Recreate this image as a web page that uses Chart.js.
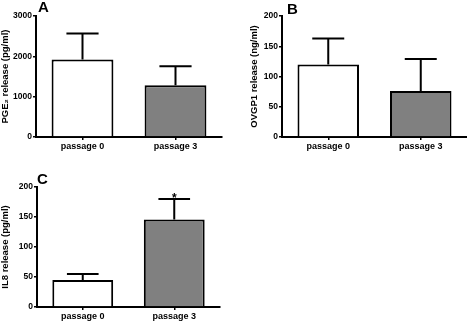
<!DOCTYPE html>
<html>
<head>
<meta charset="utf-8">
<script src="https://cdn.jsdelivr.net/npm/chart.js@4/dist/chart.umd.min.js"></script>
<style>
  html, body { margin:0; padding:0; background:#fff; }
  #wrap { position:relative; width:467px; height:322px; overflow:hidden; background:#fff; }
  canvas { position:absolute; }
  .letter { position:absolute; font-family:"Liberation Sans", Arial, sans-serif; font-weight:bold; font-size:15px; color:#000; line-height:1; }
</style>
</head>
<body>
<div id="wrap">
  <canvas id="cA" width="230" height="160" style="left:0px;top:0px"></canvas>
  <canvas id="cB" width="218" height="160" style="left:249px;top:0px"></canvas>
  <canvas id="cC" width="230" height="162" style="left:0px;top:160px"></canvas>
  <div class="letter" style="left:38px;top:-1px">A</div>
  <div class="letter" style="left:287px;top:1px">B</div>
  <div class="letter" style="left:37px;top:171px">C</div>
</div>
<script>
// ---- data ----
const categories = ["passage 0", "passage 3"];

const pge2Values = [1920, 1285];
const pge2Errors = [645, 470];
const pge2Marks  = ["", ""];

const ovgp1Values = [120, 76];
const ovgp1Errors = [43, 53];
const ovgp1Marks  = ["", ""];

const il8Values = [45, 146];
const il8Errors = [10, 34];
const il8Marks  = ["", "*"];

const barColors = ["#ffffff", "#808080"];
const FONT = '"Liberation Sans", Arial, sans-serif';

const errorBarPlugin = {
  id: 'errorBars',
  afterDatasetsDraw(chart) {
    const ctx = chart.ctx;
    const ys = chart.scales.y;
    const meta = chart.getDatasetMeta(0);
    const ds = chart.data.datasets[0];
    ctx.save();
    ctx.strokeStyle = '#000';
    ctx.lineWidth = 2;
    meta.data.forEach((el, i) => {
      const v = ds.data[i], e = ds.errors[i];
      const yTop = ys.getPixelForValue(v + e);
      const x = el.x;
      const capHalf = el.width * 0.26;
      ctx.beginPath();
      ctx.moveTo(x, el.y);
      ctx.lineTo(x, yTop);
      ctx.moveTo(x - capHalf, yTop);
      ctx.lineTo(x + capHalf, yTop);
      ctx.stroke();
      const m = ds.marks[i];
      if (m) {
        ctx.fillStyle = '#000';
        ctx.font = 'bold 12px ' + FONT;
        ctx.textAlign = 'center';
        ctx.textBaseline = 'bottom';
        ctx.fillText(m, x, yTop + 6);
      }
    });
    ctx.restore();
  }
};

function makeChart(id, values, errors, marks, yMax, yStep, yTitle, yWidth, xHeight, padTop, padRight) {
  return new Chart(document.getElementById(id), {
    type: 'bar',
    data: {
      labels: categories,
      datasets: [{
        data: values,
        errors: errors,
        marks: marks,
        backgroundColor: barColors,
        borderColor: '#000',
        borderWidth: 2,
        barPercentage: 0.665,
        categoryPercentage: 1.0
      }]
    },
    options: {
      responsive: false,
      animation: false,
      devicePixelRatio: 1,
      layout: { padding: { top: padTop, right: padRight, left: 0, bottom: 0 } },
      plugins: { legend: { display: false }, tooltip: { enabled: false } },
      scales: {
        x: {
          type: 'category',
          offset: true,
          grid: { display: true, drawOnChartArea: false, drawTicks: true, tickLength: 3, offset: false, color: '#000', lineWidth: 1.5 },
          border: { display: true, color: '#000', width: 2 },
          ticks: { color: '#000', font: { family: FONT, weight: 'bold', size: 9 }, padding: 1, maxRotation: 0 },
          afterFit: s => { s.height = xHeight; }
        },
        y: {
          min: 0, max: yMax,
          grid: { display: true, drawOnChartArea: false, drawTicks: true, tickLength: 3, color: '#000', lineWidth: 1.5 },
          border: { display: true, color: '#000', width: 2 },
          ticks: { stepSize: yStep, color: '#000', font: { family: FONT, weight: 'bold', size: 8.5 }, padding: 1,
                   callback: v => String(v) },
          title: { display: true, text: yTitle, color: '#000', font: { family: FONT, weight: 'bold', size: 9.5 }, padding: { top: 0, bottom: 2 } },
          afterFit: s => { s.width = yWidth; }
        }
      }
    },
    plugins: [errorBarPlugin]
  });
}

makeChart('cA', pge2Values, pge2Errors, pge2Marks, 3000, 1000, 'PGE\u2082 release (pg/ml)', 36, 23, 16, 8);
makeChart('cB', ovgp1Values, ovgp1Errors, ovgp1Marks, 200, 50, 'OVGP1 release (ng/ml)', 33, 23, 16, 0);
makeChart('cC', il8Values, il8Errors, il8Marks, 200, 50, 'IL8 release (pg/ml)', 37, 15, 27, 10);
</script>
</body>
</html>
